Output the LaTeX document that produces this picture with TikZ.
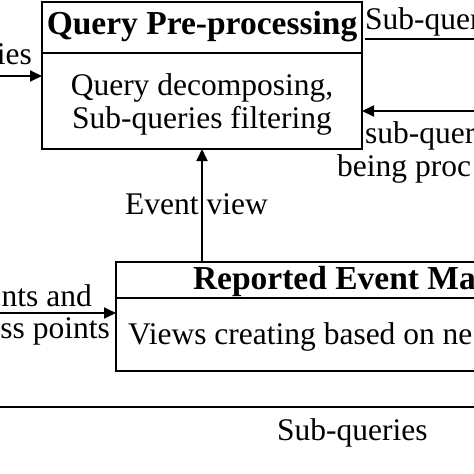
\documentclass[tikz,border=0pt]{standalone}
\usepackage{fontspec}
\setmainfont{Liberation Serif}
\usetikzlibrary{arrows.meta}

\begin{document}
\begin{tikzpicture}[x=1pt,y=-1pt,
    box/.style={draw,line width=1.8pt,inner sep=0pt,outer sep=0pt,font=\fontsize{31.5}{33}\selectfont},
    ttl/.style={box,font=\bfseries\fontsize{33.5}{36}\selectfont},
    lbl/.style={inner sep=0pt,font=\fontsize{31.5}{33}\selectfont},
    arr/.style={line width=1.8pt,-{Triangle[length=12pt,width=11pt]}}]
    \useasboundingbox (0,0) rectangle (474,474);
    \clip (0,0) rectangle (474,474);
    % pixel coordinates, y runs downwards; the picture is a cut-out so the right side runs off
    \node[ttl,anchor=north west,minimum width=320pt,minimum height=51pt,text height=21pt,text depth=8pt] (qtitle) at (42,2) {Query Pre-processing};
    \node[box,anchor=north,minimum width=320pt,minimum height=96pt,align=center,text height=62pt,text depth=7pt] (qbody) at (qtitle.south) {Query decomposing,\\Sub-queries filtering};
    \node[ttl,anchor=north west,minimum height=36pt,inner xsep=77pt,text width=446pt,align=flush left,text height=24pt,text depth=6pt] (evtitle) at (116,262) {Reported Event Ma};
    \node[box,anchor=north west,minimum height=73pt,inner xsep=12pt,text width=576pt,align=flush left,text height=26pt,text depth=7pt] (evbody) at (evtitle.south west) {Views creating based on ne};
    \coordinate (qin) at (-20,76);
    \coordinate (sqout) at (365,39);
    \coordinate (sqend) at (500,39);
    \coordinate (procin) at (500,111);
    \coordinate (viewfoot) at (202,262);
    \coordinate (repin) at (-20,313);
    \coordinate (subL) at (-20,407);
    \coordinate (subR) at (500,407);
    \draw[arr] (qin) -- (qin -| qbody.west);
    \draw[line width=1.8pt] (sqout) -- (sqend);
    \draw[arr] (procin) -- (procin -| qbody.east);
    \draw[arr] (viewfoot) -- (viewfoot |- qbody.south);
    \draw[arr] (repin) -- (repin -| evbody.west);
    \draw[line width=2.4pt] (subL) -- (subR);
    \node[lbl,anchor=base east] (qinlbl) at (32,64) {ies};
    \node[lbl,anchor=base west] (sqlbl) at (365,29) {Sub-quer};
    \node[lbl,anchor=base west] (proclbla) at (365,143) {sub-quer};
    \node[lbl,anchor=base west] (proclblb) at (337,176) {being proc};
    \node[lbl,anchor=base west] (viewlbl) at (125,214) {Event view};
    \node[lbl,anchor=base east] (replbla) at (92,306) {nts and};
    \node[lbl,anchor=base east] (replblb) at (110,338) {ss points};
    \node[lbl,anchor=base west] (sublbl) at (277,440) {Sub-queries};
\end{tikzpicture}
\end{document}
